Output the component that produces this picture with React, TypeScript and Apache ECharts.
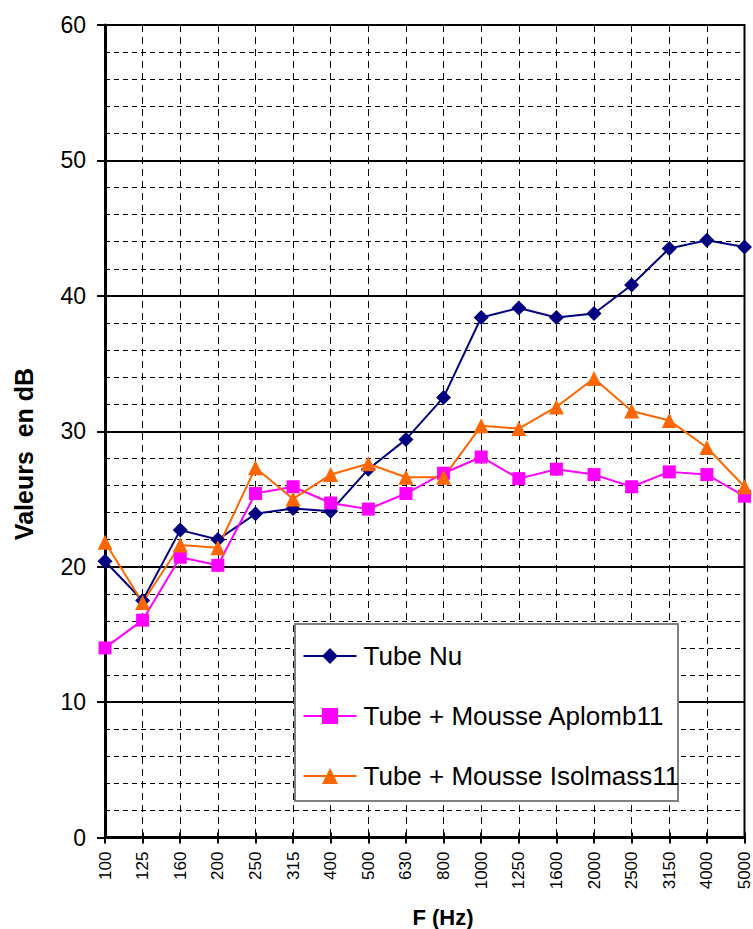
import React, { useEffect, useRef } from "react";
import * as echarts from "echarts";

const frequencies = ["100", "125", "160", "200", "250", "315", "400", "500", "630", "800", "1000", "1250", "1600", "2000", "2500", "3150", "4000", "5000"];
const tubeNu = [20.4, 17.5, 22.7, 22.0, 23.9, 24.3, 24.1, 27.2, 29.4, 32.5, 38.4, 39.1, 38.4, 38.7, 40.8, 43.5, 44.1, 43.6];
const aplomb11 = [14.0, 16.05, 20.7, 20.1, 25.4, 25.9, 24.7, 24.25, 25.4, 26.9, 28.1, 26.5, 27.2, 26.8, 25.9, 27.0, 26.8, 25.2];
const isolmass11 = [21.8, 17.35, 21.6, 21.4, 27.3, 25.0, 26.8, 27.6, 26.6, 26.6, 30.4, 30.2, 31.8, 33.9, 31.5, 30.8, 28.8, 25.9];
const seriesNames = ["Tube Nu", "Tube + Mousse Aplomb11", "Tube + Mousse Isolmass11"];

const FONT = "'Liberation Sans', Arial, sans-serif";

export default function App() {
  const ref = useRef<HTMLDivElement>(null);
  useEffect(() => {
    if (!ref.current) return;
    const chart = echarts.init(ref.current, null, { renderer: "svg" });
    const grid = { left: 105, right: 7, top: 25, bottom: 91.5 };
    chart.setOption({
      animation: false,
      backgroundColor: "#ffffff",
      textStyle: { fontFamily: FONT },
      grid: { ...grid, show: true, borderColor: "#000", borderWidth: 2, backgroundColor: "transparent" },
      xAxis: [
        {
          type: "category",
          data: frequencies,
          boundaryGap: false,
          position: "bottom",
          axisLine: { show: true, lineStyle: { color: "#000", width: 3 } },
          axisTick: { show: true, alignWithLabel: true, interval: 0, length: 6, lineStyle: { color: "#000", width: 2 } },
          axisLabel: { interval: 0, rotate: 90, margin: 14, fontSize: 17, color: "#000", fontFamily: FONT },
          splitLine: { show: true, interval: 0, lineStyle: { color: "#000", width: 1, type: [7, 5] } },
        },
        {
          type: "category",
          data: frequencies,
          boundaryGap: false,
          position: "bottom",
          axisLine: { show: false },
          axisTick: { show: true, inside: true, interval: 0, length: 5, lineStyle: { color: "#000", width: 2 } },
          axisLabel: { show: false },
          splitLine: { show: false },
        },
      ],
      yAxis: [
        {
          type: "value",
          min: 0,
          max: 60,
          interval: 10,
          position: "left",
          axisLine: { show: true, lineStyle: { color: "#000", width: 3 } },
          axisTick: { show: true, length: 8, lineStyle: { color: "#000", width: 2 } },
          axisLabel: { margin: 19, fontSize: 23, color: "#000", fontFamily: FONT },
          splitLine: { show: true, lineStyle: { color: "#000", width: 2 } },
          minorTick: { show: false, splitNumber: 5 },
          minorSplitLine: { show: true, lineStyle: { color: "#000", width: 1, type: [5, 4] } },
        },
        {
          type: "value",
          min: 0,
          max: 60,
          interval: 2,
          position: "left",
          axisLine: { show: false },
          axisTick: { show: true, inside: true, length: 5, lineStyle: { color: "#000", width: 1 } },
          axisLabel: { show: false },
          splitLine: { show: false },
        },
      ],
      legend: {
        orient: "vertical",
        left: 302.5,
        top: 643,
        padding: 0,
        itemGap: 34,
        itemWidth: 53,
        itemHeight: 20,
        z: 20,
        data: seriesNames,
        textStyle: { fontSize: 26, color: "#000", fontFamily: FONT, lineHeight: 24, padding: [0, 0, 0, 2] },
      },
      graphic: [
        {
          type: "rect",
          z: 10,
          shape: { x: 295, y: 624, width: 383, height: 177 },
          style: { fill: "#fff", stroke: "#808080", lineWidth: 2 },
        },
        {
          type: "text",
          x: 24,
          y: 454,
          rotation: Math.PI / 2,
          style: { text: "Valeurs  en dB", font: `bold 25px ${FONT}`, fill: "#000", align: "center", verticalAlign: "middle" },
        },
        {
          type: "text",
          x: 443,
          y: 917,
          style: { text: "F (Hz)", font: `bold 22px ${FONT}`, fill: "#000", align: "center", verticalAlign: "middle" },
        },
      ],
      series: [
        {
          name: seriesNames[0],
          type: "line",
          data: tubeNu,
          symbol: "diamond",
          symbolSize: 15,
          lineStyle: { color: "#000080", width: 2 },
          itemStyle: { color: "#000080" },
        },
        {
          name: seriesNames[1],
          type: "line",
          data: aplomb11,
          symbol: "rect",
          symbolSize: 13,
          lineStyle: { color: "#FF00FF", width: 2 },
          itemStyle: { color: "#FF00FF" },
        },
        {
          name: seriesNames[2],
          type: "line",
          data: isolmass11,
          symbol: "triangle",
          symbolSize: 15,
          lineStyle: { color: "#FF6600", width: 2 },
          itemStyle: { color: "#FF6600" },
        },
      ],
    });
    return () => chart.dispose();
  }, []);
  return <div ref={ref} style={{ position: "fixed", left: 0, top: 0, width: 753, height: 929 }} />;
}
